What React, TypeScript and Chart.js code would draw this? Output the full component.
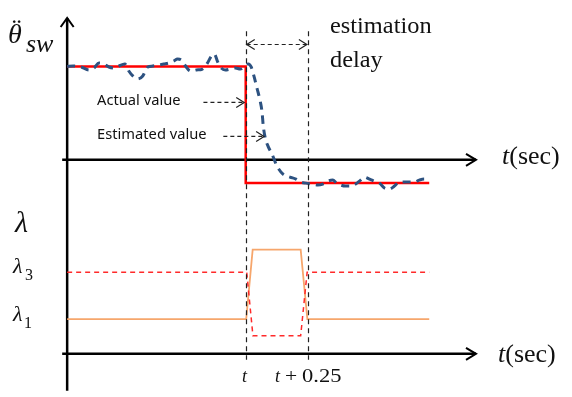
import React, { useEffect, useRef } from 'react';
import { Chart, registerables } from 'chart.js';

Chart.register(...registerables);

const W = 572;
const H = 397;

// Time axis in ms, relative to the step instant t
const T_MIN = -982;
const T_MAX = 1306;
// Upper panel: steering acceleration in % of its initial level
const THETA_MIN = -252.7;
const THETA_MAX = 169.7;
// Lower panel: lambda level
const LAMBDA_MIN = -1.2;
const LAMBDA_MAX = 10.143;

// Actual value (red step)
const ACTUAL_T = [-718, 0, 0, 738];
const ACTUAL_V = [100, 100, -25, -25];

// Estimated value (blue dashed, noisy, delayed)
const EST_T = [
  -718, -694, -662, -630, -610, -590, -570, -550, -526, -510, -486, -470, -454, -434, -414, -394,
  -374, -350, -330, -310, -290, -274, -258, -242, -222, -198, -174, -154, -138, -126, -114, -102,
  -82, -62, -42, -22, -6, 10, 22, 34, 46, 58, 66, 70, 78, 90, 106, 126, 150, 178, 202, 222, 242,
  266, 290, 310, 330, 350, 366, 382, 402, 422, 442, 462, 478, 498, 518, 538, 558, 578, 598, 618,
  638, 658, 678, 698, 718, 734,
];
const EST_V = [
  100, 100.5, 99.5, 96.3, 98.4, 103.7, 102.7, 99.5, 98.4, 100.5, 102.7, 95.2, 89.9, 86.7, 89.9, 99.5,
  100.5, 101.6, 102.7, 103.7, 105.9, 108, 106.9, 100.5, 95.2, 96.3, 97.3, 103.7, 111.2, 113.3, 105.9, 99.5,
  96.3, 97.3, 98.4, 97.3, 99.5, 102.7, 99.5, 88.8, 76.1, 63.3, 50.5, 37.8, 24, 14.4, 5.9, -6.9, -15.4, -18.6, -20.7, -23.9, -25,
  -26, -27.1, -26, -22.9, -21.8, -25, -27.1, -28.2, -28.2, -26, -21.8, -18.6, -20.7, -22.9, -25, -30.3, -31.4, -28.2, -23.9,
  -23.9, -23.9, -23.9, -21.8, -20.7, -23.9,
];

// lambda_1 (orange solid) and lambda_3 (red dashed)
const L1_T = [-718, 2, 28, 221, 248, 738];
const L1_V = [1, 1, 3, 3, 1, 1];
const L3_T = [-718, 4, 29, 221, 247, 738];
const L3_V = [2.35, 2.35, 0.52, 0.52, 2.35, 2.35];

// Structural references (data units)
const V_AXIS_T = -718;
const H_AXIS_START_T = -738;
const H_AXIS_END_T = 926;
const THETA_AXIS_TOP = 152;
const LAMBDA_AXIS_BOTTOM = -1.06;
const DELAY_T = [0, 250];
const DELAY_TOP_THETA = 137.8;
const DELAY_BOTTOM_LAMBDA = -0.17;
const DELAY_ARROW_THETA = 123.6;
const ACTUAL_ARROW = { t0: -170, t1: -6, v: 61.5 };
const EST_ARROW = { t0: -90, t1: 74, v: 25 };

const SERIF = '"Liberation Serif", "Times New Roman", serif';
const SANS = '"Noto Sans", "Open Sans", sans-serif';

const pts = (ts: number[], vs: number[]) => ts.map((t, i) => ({ x: t, y: vs[i] }));

function txt(ctx: CanvasRenderingContext2D, s: string, x: number, y: number, font: string, sx = 1, base: CanvasTextBaseline = 'alphabetic') {
  ctx.save();
  ctx.font = font;
  ctx.textBaseline = base;
  ctx.textAlign = 'left';
  ctx.fillStyle = '#111';
  ctx.translate(x, y);
  ctx.scale(sx, 1);
  ctx.fillText(s, 0, 0);
  const w = ctx.measureText(s).width * sx;
  ctx.restore();
  return w;
}

function chevron(ctx: CanvasRenderingContext2D, x: number, y: number, dx: number, dy: number, len: number, half: number) {
  const px = -dy, py = dx;
  ctx.beginPath();
  ctx.moveTo(x - dx * len + px * half, y - dy * len + py * half);
  ctx.lineTo(x, y);
  ctx.lineTo(x - dx * len - px * half, y - dy * len - py * half);
  ctx.stroke();
}

const diagramPlugin = {
  id: 'diagram',
  beforeDatasetsDraw(chart: any) {
    const ctx: CanvasRenderingContext2D = chart.ctx;
    const sx = chart.scales.x, sT = chart.scales.yT, sL = chart.scales.yL;
    const ax = sx.getPixelForValue(V_AXIS_T);
    ctx.save();
    ctx.strokeStyle = '#000';
    ctx.lineWidth = 2.5;
    ctx.lineCap = 'butt';
    const top = sT.getPixelForValue(THETA_AXIS_TOP);
    ctx.beginPath();
    ctx.moveTo(ax, top);
    ctx.lineTo(ax, sL.getPixelForValue(LAMBDA_AXIS_BOTTOM));
    ctx.stroke();
    ctx.lineWidth = 2;
    chevron(ctx, ax, top, 0, -1, 9, 6.5);
    ctx.lineWidth = 2.5;
    const x0 = sx.getPixelForValue(H_AXIS_START_T);
    const x1 = sx.getPixelForValue(H_AXIS_END_T);
    for (const y of [sT.getPixelForValue(0), sL.getPixelForValue(0)]) {
      ctx.beginPath();
      ctx.moveTo(x0, y);
      ctx.lineTo(x1, y);
      ctx.stroke();
      ctx.lineWidth = 2;
      chevron(ctx, x1, y, 1, 0, 10, 6);
      ctx.lineWidth = 2.5;
    }
    ctx.restore();
  },
  afterDatasetsDraw(chart: any) {
    const ctx: CanvasRenderingContext2D = chart.ctx;
    const sx = chart.scales.x, sT = chart.scales.yT, sL = chart.scales.yL;
    ctx.save();
    ctx.strokeStyle = '#222';
    ctx.lineWidth = 1.2;
    ctx.setLineDash([5, 4]);
    for (const t of DELAY_T) {
      const x = Math.round(sx.getPixelForValue(t)) + 0.5;
      ctx.beginPath();
      ctx.moveTo(x, sT.getPixelForValue(DELAY_TOP_THETA));
      ctx.lineTo(x, sL.getPixelForValue(DELAY_BOTTOM_LAMBDA));
      ctx.stroke();
    }
    const ay = sT.getPixelForValue(DELAY_ARROW_THETA);
    const dx0 = sx.getPixelForValue(DELAY_T[0]) + 1;
    const dx1 = sx.getPixelForValue(DELAY_T[1]) - 1;
    ctx.setLineDash([4, 3]);
    ctx.beginPath();
    ctx.moveTo(dx0, ay);
    ctx.lineTo(dx1, ay);
    ctx.stroke();
    ctx.setLineDash([]);
    chevron(ctx, dx0, ay, -1, 0, 8, 5);
    chevron(ctx, dx1, ay, 1, 0, 8, 5);
    for (const a of [ACTUAL_ARROW, EST_ARROW]) {
      const y = sT.getPixelForValue(a.v);
      const xa = sx.getPixelForValue(a.t0), xb = sx.getPixelForValue(a.t1);
      ctx.setLineDash([4, 3]);
      ctx.beginPath();
      ctx.moveTo(xa, y);
      ctx.lineTo(xb, y);
      ctx.stroke();
      ctx.setLineDash([]);
      chevron(ctx, xb, y, 1, 0, 8, 5);
    }
    ctx.restore();

    txt(ctx, 'θ', 8, 43, `italic 28px ${SERIF}`);
    txt(ctx, '¨', 12, 38, `28px ${SERIF}`);
    txt(ctx, 'sw', 26, 52, `italic 26px ${SERIF}`);
    txt(ctx, 'estimation', 330, 33, `23px ${SERIF}`, 1.06);
    txt(ctx, 'delay', 330, 67, `23px ${SERIF}`, 1.06);
    txt(ctx, 'Actual value', 97, 101, `14px ${SANS}`, 1.05, 'middle');
    txt(ctx, 'Estimated value', 97, 135, `14px ${SANS}`, 1.05, 'middle');
    for (const [x, y] of [[502, 164], [498, 362]]) {
      const w = txt(ctx, 't', x, y, `italic 26px ${SERIF}`);
      txt(ctx, '(sec)', x + w, y, `26px ${SERIF}`);
    }
    txt(ctx, 'λ', 15, 232, `italic 30px ${SERIF}`);
    txt(ctx, 'λ', 13, 273, `italic 22px ${SERIF}`);
    txt(ctx, '3', 25, 280, `16px ${SERIF}`);
    txt(ctx, 'λ', 13, 321, `italic 22px ${SERIF}`);
    txt(ctx, '1', 24, 328, `16px ${SERIF}`);
    txt(ctx, 't', 242, 382, `italic 18px ${SERIF}`);
    txt(ctx, 't', 275, 382, `italic 18px ${SERIF}`);
    txt(ctx, '+', 285, 382, `18px ${SERIF}`, 1.2);
    txt(ctx, '0.25', 302, 382, `18px ${SERIF}`, 1.25);
  },
};

export default function App() {
  const ref = useRef<HTMLCanvasElement>(null);
  useEffect(() => {
    let alive = true;
    const chart = new Chart(ref.current as HTMLCanvasElement, {
      type: 'line',
      data: {
        datasets: [
          {
            data: pts(EST_T, EST_V),
            yAxisID: 'yT',
            borderColor: '#2d5281',
            borderWidth: 3,
            borderDash: [8, 6],
            cubicInterpolationMode: 'monotone',
            pointRadius: 0,
          },
          {
            data: pts(ACTUAL_T, ACTUAL_V),
            yAxisID: 'yT',
            borderColor: '#ff0000',
            borderWidth: 2.5,
            tension: 0,
            pointRadius: 0,
          },
          {
            data: pts(L3_T, L3_V),
            yAxisID: 'yL',
            borderColor: '#ff2a2a',
            borderWidth: 1.5,
            borderDash: [5, 4],
            tension: 0,
            pointRadius: 0,
          },
          {
            data: pts(L1_T, L1_V),
            yAxisID: 'yL',
            borderColor: '#f6a66c',
            borderWidth: 1.8,
            tension: 0,
            pointRadius: 0,
          },
        ],
      },
      options: {
        responsive: false,
        animation: false,
        layout: { padding: 0 },
        scales: {
          x: { type: 'linear', display: false, min: T_MIN, max: T_MAX },
          yT: { type: 'linear', axis: 'y', display: false, min: THETA_MIN, max: THETA_MAX },
          yL: { type: 'linear', axis: 'y', display: false, min: LAMBDA_MIN, max: LAMBDA_MAX },
        },
        plugins: { legend: { display: false }, tooltip: { enabled: false } },
        events: [],
      } as any,
      plugins: [diagramPlugin],
    });
    const fonts = (document as any).fonts;
    if (fonts && fonts.load) {
      Promise.all([
        fonts.load(`23px "Liberation Serif"`),
        fonts.load(`italic 23px "Liberation Serif"`),
        fonts.load(`14px "Noto Sans"`),
      ]).then(() => { if (alive) chart.update(); }).catch(() => {});
    }
    return () => { alive = false; chart.destroy(); };
  }, []);
  return (
    <div style={{ position: 'fixed', left: 0, top: 0, width: W, height: H, background: '#fff' }}>
      <canvas ref={ref} width={W} height={H} style={{ display: 'block', width: W, height: H }} />
    </div>
  );
}
